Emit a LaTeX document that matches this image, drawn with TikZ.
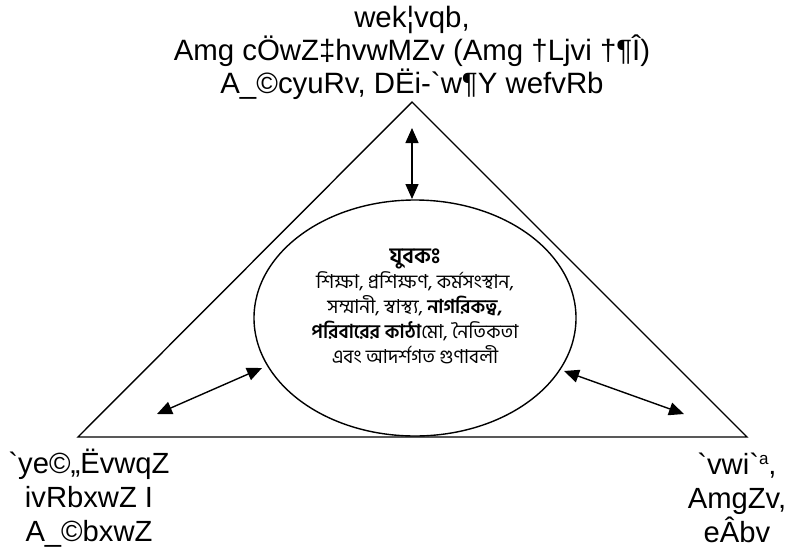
\documentclass[tikz,border=0pt]{standalone}
\usepackage{fontspec}
\newfontfamily\lat{Liberation Sans}
\newfontfamily\bn[Script=Bengali]{Hind Siliguri}
\usetikzlibrary{shapes.geometric,arrows.meta}
\newcommand{\supa}{\raisebox{0.33em}{\fontsize{17}{17}\selectfont a}}
\begin{document}
\begin{tikzpicture}[x=1pt,y=-1pt,
  edge/.style={line width=1.4pt},
  dbl/.style={line width=1.4pt,{Triangle[length=15pt,width=13pt]}-{Triangle[length=15pt,width=13pt]}},
  lbl/.style={font=\lat\fontsize{29.4}{33}\selectfont,align=center,inner sep=0pt},
  lblb/.style={font=\lat\fontsize{29.2}{34}\selectfont,align=center,inner sep=0pt},
  bnl/.style={font=\bn\fontsize{19.2}{25}\selectfont,align=center,inner sep=0pt}]
\useasboundingbox (0,0) rectangle (789,550);
\coordinate (A) at (412,102);
\coordinate (L) at (78,437);
\coordinate (R) at (747,437);
\draw[edge,line join=miter] (A) -- (L) -- (R) -- cycle;
\node[draw,edge,ellipse,minimum width=322pt,minimum height=236pt,inner sep=0pt] (E) at (415,318) {};
\node[bnl] (Et) at (415,306) {{\fontsize{22}{25}\selectfont\bfseries যুবকঃ}\\
শিক্ষা, প্রশিক্ষণ, কর্মসংস্থান,\\
সম্মানী, স্বাস্থ্য, {\bfseries নাগরিকত্ব,}\\
{\bfseries পরিবারের কাঠা}মো, নৈতিকতা\\
এবং আদর্শগত গুণাবলী};
\node[lbl] (T) at (412,53) {wek¦vqb,\\Amg cÖwZ‡hvwMZv (Amg †Ljvi †¶Î)\\A\_©cyuRv, DËi-`w¶Y wefvRb};
\node[lblb] (BL) at (89,498) {`ye©„ËvwqZ\\ivRbxwZ I\\A\_©bxwZ};
\node[lblb] (BR) at (737,498) {`vwi`\supa,\\AmgZv,\\eÂbv};
\coordinate (t1) at (412,128);
\coordinate (t2) at (412,199);
\coordinate (l1) at (157,414);
\coordinate (l2) at (262,368);
\coordinate (r1) at (564,371);
\coordinate (r2) at (684,414);
\draw[dbl] (t1) -- (t2);
\draw[dbl] (l1) -- (l2);
\draw[dbl] (r1) -- (r2);
\end{tikzpicture}
\end{document}
